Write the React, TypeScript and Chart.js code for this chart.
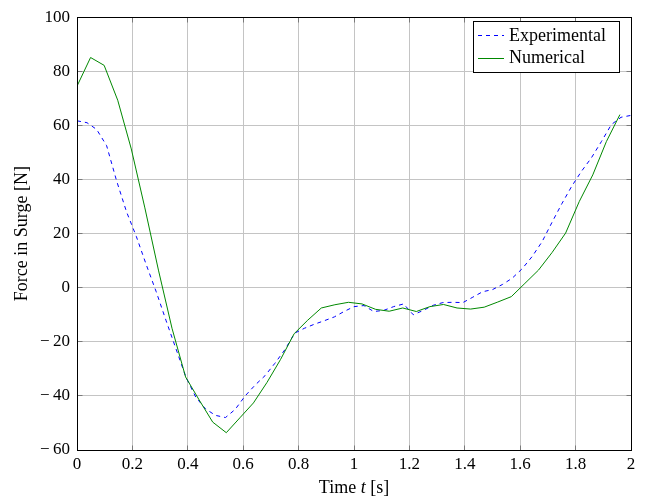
import React, { useEffect, useRef } from 'react';
import { Chart, registerables } from 'chart.js';

Chart.register(...registerables);

const FONT = '"Liberation Serif", "Times New Roman", serif';

// Experimental series (time in s, force in N)
const expTime = [0, 0.036, 0.071, 0.107, 0.143, 0.179, 0.214, 0.25, 0.286, 0.321, 0.357, 0.393, 0.429, 0.464, 0.5, 0.536, 0.571, 0.607, 0.643, 0.679, 0.714, 0.75, 0.786, 0.821, 0.857, 0.893, 0.929, 0.964, 1.0, 1.036, 1.071, 1.107, 1.143, 1.179, 1.214, 1.25, 1.286, 1.321, 1.357, 1.393, 1.429, 1.464, 1.5, 1.536, 1.571, 1.607, 1.643, 1.679, 1.714, 1.75, 1.786, 1.821, 1.857, 1.893, 1.929, 1.964, 2.0];
const expForce = [61.7, 61, 58.5, 52.5, 39.5, 28, 19, 8.5, -1.5, -12, -22.5, -33, -40.5, -44.8, -47.2, -48, -45, -40, -36, -32.5, -28, -23, -16.8, -15, -13.5, -12.2, -10.8, -8.8, -7, -6.6, -8.8, -8.4, -7, -6, -10, -8.4, -6.5, -5.5, -5.4, -5.5, -3.5, -1.5, -0.7, 1.2, 3.5, 7, 11.5, 17, 24, 31, 37.5, 43, 48, 54, 60.3, 63, 63.7];

// Numerical series
const numTime = [0, 0.049, 0.098, 0.147, 0.196, 0.245, 0.294, 0.343, 0.392, 0.441, 0.49, 0.539, 0.588, 0.637, 0.686, 0.735, 0.784, 0.833, 0.882, 0.931, 0.98, 1.029, 1.078, 1.127, 1.176, 1.225, 1.274, 1.323, 1.372, 1.421, 1.47, 1.519, 1.568, 1.617, 1.666, 1.715, 1.764, 1.813, 1.862, 1.911, 1.96];
const numForce = [74.5, 85.1, 82.2, 69.3, 51.3, 29.5, 6.5, -15, -33, -41.5, -49.7, -53.6, -48.1, -42.6, -35, -26.5, -17, -12, -7.5, -6.3, -5.4, -6, -8, -8.7, -7.5, -8.8, -7, -6.2, -7.5, -7.9, -7.2, -5.3, -3.3, 1.6, 6.5, 13, 20.2, 31.8, 41.7, 54, 64];

const seriesLabels = ['Experimental', 'Numerical'];
const seriesColors = ['#0000ff', '#008800'];

const xMin = 0, xMax = 2, xStep = 0.2;
const yMin = -60, yMax = 100, yStep = 20;

const minusFmt = (v: number) => {
  const n = Math.round(v * 100) / 100;
  const s = String(Math.abs(n));
  return n < 0 ? '\u2212\u2009' + s : s;
};

const align = (p: number) => Math.round(p - 0.5) + 0.5;

const decorPlugin = {
  id: 'decor',
  afterDatasetsDraw(chart: any) {
    const { ctx, chartArea } = chart;
    const { left, right, top, bottom } = chartArea;
    const xs = chart.scales.x;
    const ys = chart.scales.y;
    const L = align(left), R = align(right), T = align(top), B = align(bottom);
    ctx.save();
    ctx.strokeStyle = '#7a7a7a';
    ctx.lineWidth = 1;
    const tl = 5;
    ctx.beginPath();
    xs.ticks.forEach((t: any) => {
      const px = align(xs.getPixelForValue(t.value));
      ctx.moveTo(px, B); ctx.lineTo(px, B - tl);
      ctx.moveTo(px, T); ctx.lineTo(px, T + tl);
    });
    ys.ticks.forEach((t: any) => {
      const py = align(ys.getPixelForValue(t.value));
      ctx.moveTo(L, py); ctx.lineTo(L + tl, py);
      ctx.moveTo(R, py); ctx.lineTo(R - tl, py);
    });
    ctx.stroke();
    ctx.strokeStyle = '#000';
    ctx.strokeRect(L, T, R - L, B - T);
    ctx.restore();
  },
  afterDraw(chart: any) {
    const { ctx, chartArea } = chart;
    ctx.save();
    // x-axis title with italic t
    const cx = (chartArea.left + chartArea.right) / 2;
    const cy = 488;
    const parts = [
      { text: 'Time ', italic: false },
      { text: 't', italic: true },
      { text: ' [s]', italic: false },
    ];
    const fontFor = (it: boolean) => `${it ? 'italic ' : ''}18px ${FONT}`;
    let total = 0;
    parts.forEach(p => { ctx.font = fontFor(p.italic); total += ctx.measureText(p.text).width; });
    let x = cx - total / 2;
    ctx.fillStyle = '#000';
    ctx.textBaseline = 'middle';
    ctx.textAlign = 'left';
    parts.forEach(p => { ctx.font = fontFor(p.italic); ctx.fillText(p.text, x, cy); x += ctx.measureText(p.text).width; });

    // legend box
    const bx = 473.5, by = 21.5, bw = 146, bh = 51;
    ctx.fillStyle = '#fff';
    ctx.fillRect(bx, by, bw, bh);
    ctx.strokeStyle = '#000';
    ctx.lineWidth = 1;
    ctx.strokeRect(bx, by, bw, bh);
    const rows = [35, 57.5];
    chart.data.datasets.forEach((ds: any, i: number) => {
      const ry = Math.round(rows[i]) + 0.5;
      ctx.beginPath();
      ctx.strokeStyle = ds.borderColor;
      ctx.lineWidth = 1;
      ctx.setLineDash(ds.borderDash || []);
      ctx.moveTo(478, ry);
      ctx.lineTo(504, ry);
      ctx.stroke();
      ctx.setLineDash([]);
      ctx.font = `18px ${FONT}`;
      ctx.fillStyle = '#000';
      ctx.textBaseline = 'middle';
      ctx.fillText(ds.label, 509, rows[i] + 1);
    });
    ctx.restore();
  },
};

export default function App() {
  const ref = useRef<HTMLCanvasElement>(null);
  useEffect(() => {
    if (!ref.current) return;
    const chart = new Chart(ref.current, {
      type: 'line',
      data: {
        datasets: [
          {
            label: seriesLabels[0],
            data: expTime.map((t, i) => ({ x: t, y: expForce[i] })),
            borderColor: seriesColors[0],
            borderDash: [4, 4],
            borderWidth: 1,
            pointRadius: 0,
            fill: false,
            tension: 0,
            order: 1,
          },
          {
            label: seriesLabels[1],
            data: numTime.map((t, i) => ({ x: t, y: numForce[i] })),
            borderColor: seriesColors[1],
            borderWidth: 1,
            pointRadius: 0,
            fill: false,
            tension: 0,
            order: 0,
          },
        ],
      },
      options: {
        responsive: false,
        animation: false,
        devicePixelRatio: 1,
        layout: { padding: { top: 12, right: 17, left: 0, bottom: 0 } },
        plugins: { legend: { display: false }, tooltip: { enabled: false } },
        scales: {
          x: {
            type: 'linear',
            min: xMin,
            max: xMax,
            ticks: {
              stepSize: xStep,
              padding: 4,
              color: '#000',
              font: { family: FONT, size: 17 },
              maxRotation: 0,
              autoSkip: false,
              callback: (v: any) => minusFmt(Number(v)),
            },
            grid: { color: '#c4c4c4', drawTicks: false },
            border: { display: false },
            afterFit: (s: any) => { s.height = 47; },
          },
          y: {
            type: 'linear',
            min: yMin,
            max: yMax,
            ticks: {
              stepSize: yStep,
              padding: 7,
              color: '#000',
              font: { family: FONT, size: 17 },
              callback: (v: any) => minusFmt(Number(v)),
            },
            grid: { color: '#c4c4c4', drawTicks: false },
            border: { display: false },
            title: {
              display: true,
              text: 'Force in Surge [N]',
              color: '#000',
              font: { family: FONT, size: 18 },
              padding: { top: 11, bottom: 0 },
            },
            afterFit: (s: any) => { s.width = 77; },
          },
        },
      },
      plugins: [decorPlugin],
    });
    return () => chart.destroy();
  }, []);
  return (
    <div style={{ position: 'absolute', left: 0, top: 0, width: 648, height: 497, background: '#fff' }}>
      <canvas ref={ref} width={648} height={497} style={{ display: 'block' }} />
    </div>
  );
}
